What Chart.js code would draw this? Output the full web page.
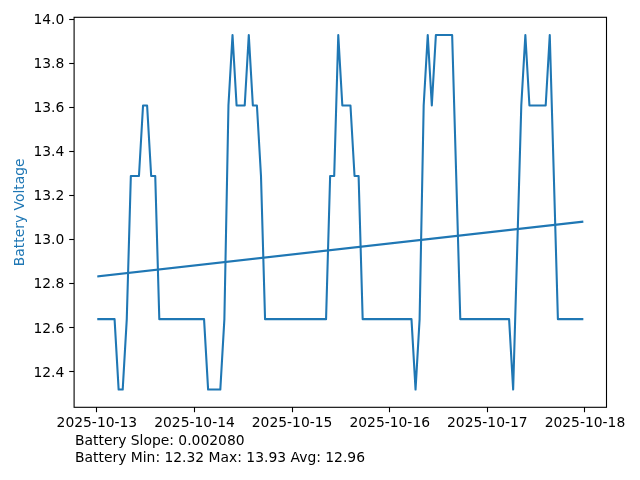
<!DOCTYPE html>
<html>
<head>
<meta charset="utf-8">
<script src="https://cdn.jsdelivr.net/npm/chart.js@4.4.0/dist/chart.umd.min.js"></script>
<style>
  html, body { margin: 0; padding: 0; background: #ffffff; }
  #wrap { width: 640px; height: 480px; position: relative; }
</style>
</head>
<body>
<div id="wrap"><canvas id="c" width="640" height="480"></canvas></div>
<script>
// Hourly battery voltage readings, starting shortly after 2025-10-13 00:00
const voltages = [
  // 2025-10-13
  12.64, 12.64, 12.64, 12.64, 12.64, 12.32, 12.32, 12.64, 13.29, 13.29, 13.29, 13.61,
  13.61, 13.29, 13.29, 12.64, 12.64, 12.64, 12.64, 12.64, 12.64, 12.64, 12.64, 12.64,
  // 2025-10-14
  12.64, 12.64, 12.64, 12.32, 12.32, 12.32, 12.32, 12.64, 13.61, 13.93, 13.61, 13.61,
  13.61, 13.93, 13.61, 13.61, 13.29, 12.64, 12.64, 12.64, 12.64, 12.64, 12.64, 12.64,
  // 2025-10-15
  12.64, 12.64, 12.64, 12.64, 12.64, 12.64, 12.64, 12.64, 12.64, 13.29, 13.29, 13.93,
  13.61, 13.61, 13.61, 13.29, 13.29, 12.64, 12.64, 12.64, 12.64, 12.64, 12.64, 12.64,
  // 2025-10-16
  12.64, 12.64, 12.64, 12.64, 12.64, 12.64, 12.32, 12.64, 13.61, 13.93, 13.61, 13.93,
  13.93, 13.93, 13.93, 13.93, 13.29, 12.64, 12.64, 12.64, 12.64, 12.64, 12.64, 12.64,
  // 2025-10-17
  12.64, 12.64, 12.64, 12.64, 12.64, 12.64, 12.32, 12.96, 13.61, 13.93, 13.61, 13.61,
  13.61, 13.61, 13.61, 13.93, 13.29, 12.64, 12.64, 12.64, 12.64, 12.64, 12.64, 12.64
];
const firstSampleHour = 0.35;   // hours after 2025-10-13 00:00
const sampleStepHours = 1;
const trendValues = [12.834, 13.082];   // fitted trend at first and last reading
const dayTickHours = [0, 24, 48, 72, 96, 120];
const dayTickLabels = ['2025-10-13', '2025-10-14', '2025-10-15', '2025-10-16', '2025-10-17', '2025-10-18'];
const yTickValues = [12.4, 12.6, 12.8, 13.0, 13.2, 13.4, 13.6, 13.8, 14.0];
const yTickLabels = ['12.4', '12.6', '12.8', '13.0', '13.2', '13.4', '13.6', '13.8', '14.0'];
const yAxisTitle = 'Battery Voltage';
const statsLines = ['Battery Slope: 0.002080', 'Battery Min: 12.32 Max: 13.93 Avg: 12.96'];

// ---- build datasets from the arrays ----
const hours = voltages.map((v, i) => firstSampleHour + i * sampleStepHours);
const voltagePoints = voltages.map((v, i) => ({ x: hours[i], y: v }));
const trendPoints = [
  { x: hours[0], y: trendValues[0] },
  { x: hours[hours.length - 1], y: trendValues[1] }
];

// matplotlib-like 5% margins
const xSpan = hours[hours.length - 1] - hours[0];
const xMin = hours[0] - 0.05 * xSpan, xMax = hours[hours.length - 1] + 0.05 * xSpan;
const vMin = Math.min(...voltages), vMax = Math.max(...voltages);
const ySpan = vMax - vMin;
const yMin = vMin - 0.05 * ySpan, yMax = vMax + 0.05 * ySpan;

const BLUE = '#1f77b4';
const FONT = { family: 'DejaVu Sans', size: 13.89 };

const framePlugin = {
  id: 'frame',
  afterDraw(chart) {
    const { ctx, chartArea: a } = chart;
    ctx.save();
    ctx.strokeStyle = '#000';
    ctx.lineWidth = 1.1;
    ctx.strokeRect(a.left, a.top, a.right - a.left, a.bottom - a.top);
    ctx.restore();
  }
};

const statsPlugin = {
  id: 'stats',
  afterDraw(chart) {
    const ctx = chart.ctx;
    ctx.save();
    ctx.fillStyle = '#000';
    ctx.font = FONT.size + 'px "' + FONT.family + '"';
    ctx.textAlign = 'left';
    ctx.textBaseline = 'middle';
    statsLines.forEach((t, i) => ctx.fillText(t, 75, 441.5 + i * 16.5));
    ctx.restore();
  }
};

new Chart(document.getElementById('c'), {
  type: 'line',
  data: {
    datasets: [
      { data: voltagePoints, borderColor: BLUE, borderWidth: 2.08, pointRadius: 0,
        tension: 0, fill: false, borderJoinStyle: 'round', borderCapStyle: 'square' },
      { data: trendPoints, borderColor: BLUE, borderWidth: 2.08, pointRadius: 0,
        tension: 0, fill: false, borderCapStyle: 'square' }
    ]
  },
  options: {
    responsive: false,
    animation: false,
    devicePixelRatio: 1,
    layout: { padding: { left: 0, top: 17.3, right: 33.5, bottom: 0 } },
    plugins: { legend: { display: false }, tooltip: { enabled: false }, title: { display: false } },
    scales: {
      x: {
        type: 'linear', min: xMin, max: xMax,
        afterBuildTicks: s => { s.ticks = dayTickHours.map(v => ({ value: v })); },
        afterFit: s => { s.height = 480 - 407.3; },
        ticks: {
          callback: v => dayTickLabels[dayTickHours.indexOf(v)],
          autoSkip: false, maxRotation: 0, minRotation: 0,
          color: '#000', font: FONT, padding: 2.5
        },
        grid: { display: true, drawOnChartArea: false, drawTicks: true,
                tickLength: 4.9, tickWidth: 1.1, tickColor: '#000' },
        border: { display: false }
      },
      y: {
        type: 'linear', min: yMin, max: yMax,
        afterBuildTicks: s => { s.ticks = yTickValues.map(v => ({ value: v })); },
        afterFit: s => { s.width = 74.1; },
        ticks: {
          callback: v => yTickLabels[yTickValues.findIndex(t => Math.abs(t - v) < 1e-9)],
          autoSkip: false, color: '#000', font: FONT, padding: 4.9, labelOffset: 1
        },
        grid: { display: true, drawOnChartArea: false, drawTicks: true,
                tickLength: 4.9, tickWidth: 1.1, tickColor: '#000' },
        border: { display: false },
        title: { display: true, text: yAxisTitle, color: BLUE, font: FONT,
                 padding: { top: 11.7, bottom: 0 } }
      }
    }
  },
  plugins: [framePlugin, statsPlugin]
});
</script>
</body>
</html>
